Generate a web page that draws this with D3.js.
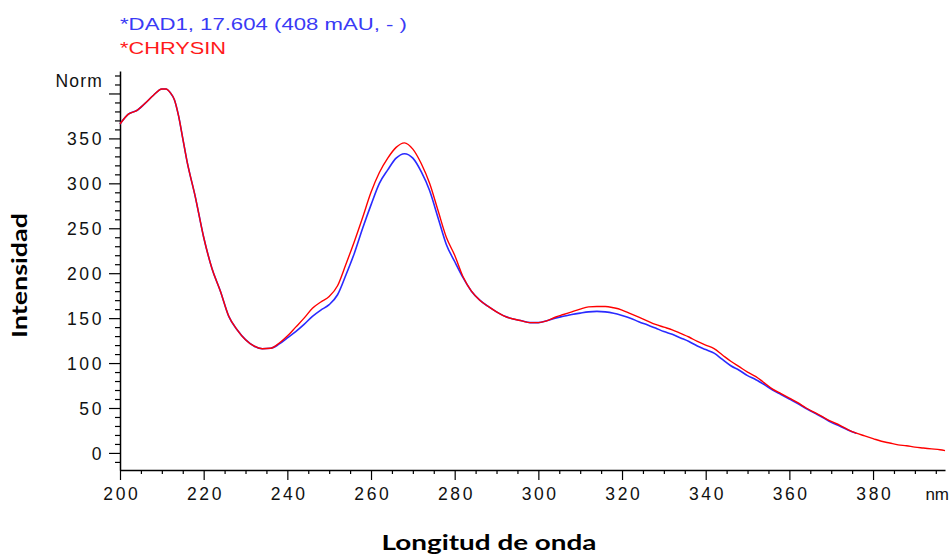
<!DOCTYPE html>
<html>
<head>
<meta charset="utf-8">
<script src="https://cdn.jsdelivr.net/npm/d3@7"></script>
<style>
  html, body { margin: 0; padding: 0; background: #fff; }
  svg { display: block; }
  .tick text { font-family: "Liberation Sans", Arial, sans-serif; font-size: 17.5px; fill: #111; letter-spacing: 2.6px; }
  .domain { stroke: #000; stroke-width: 1.5; }
  .tick line { stroke: #000; stroke-width: 1.2; }
</style>
</head>
<body>
<svg id="chart" width="950" height="554"></svg>
<script>
// ---- data ----
const wavelengthsRed = [200,202,204,206,208,210,211,212,213,214,215,216,218,220,222,224,226,228,230,232,234,236,238,240,242,244,246,248,250,252,254,256,258,260,262,264,266,268,270,272,274,276,278,280,282,284,286,288,290,292,294,296,298,300,302,304,306,308,310,312,314,316,318,320,322,324,326,328,330,332,334,336,338,340,342,344,346,348,350,352,354,356,358,360,362,364,366,368,370,372,374,376,378,380,382,384,386,388,390,392,394,396,397.2];
const chrysinValues = [366,377,381,389,398,405,405,401,393,375,350,325,285,240,205,180,152,137,126,119,116,116.5,122,130,140,150,161,168,174,186,210,235,262,290,312,328,340,345,338,322,300,270,240,220,196,180,170,163,157,152,149,147,145,145,147,151,154,157,160,162.5,163,163,161.5,159,155,151,147,143,140,137,133,129,124,120,116,109,102,96,90,85,78,71,66,61,56,50,45,40,35,31,26,22,19,16,13,11,9,8,6.5,5.5,4.5,3.5,2.5];

const wavelengthsBlue = [200,202,204,206,208,210,211,212,213,214,215,216,218,220,222,224,226,228,230,232,234,236,238,240,242,244,246,248,250,252,254,256,258,260,262,264,266,268,270,272,274,276,278,280,282,284,286,288,290,292,294,296,298,300,302,304,306,308,310,312,314,316,318,320,322,324,326,328,330,332,334,336,338,340,342,344,346,348,350,352,354,356,358,360,362,364,366,368,370,372,374,376];
const dadValues = [366,377,381,389,398,405,405,401,393,375,350,325,285,240,205,180,152,137,126,119,116,116.5,121,128,135,143,152,159,165,176,198,222,250,276,300,315,328,333,328,313,292,262,232,213,195,180,170,163,157,152,149,147,145,145,147,150,152,154,155.6,157,157.5,157,155.5,153,150,146,142.5,139,135,132,128,124,119,115,111,104,97,92,86,81.5,76,70,65,60,55,49.5,44.5,39.5,34,30,25.5,22];

const xMajorTicks = [200,220,240,260,280,300,320,340,360,380];
const xMinorTicks = d3.range(205, 397, 5).filter(v => v % 20 !== 0);
const yMajorTicks = [0,50,100,150,200,250,300,350,400];
const yTickLabels = ["0","50","100","150","200","250","300","350",""];
const yMinorTicks = d3.range(-10, 425, 10).filter(v => v % 50 !== 0);

const legendLines = ["*DAD1, 17.604 (408 mAU, - )", "*CHRYSIN"];
const legendColors = ["#3a3af5", "#ff1a1a"];
const yAxisTitle = "Intensidad";
const xAxisTitle = "Longitud de onda";
const xUnit = "nm";
const yUnit = "Norm";

// ---- chart ----
const svg = d3.select("#chart");
const x = d3.scaleLinear().domain([200, 397.2]).range([120, 945]);
const y = d3.scaleLinear().domain([-19, 425]).range([470, 71]);

// minor ticks
svg.append("g").attr("transform", "translate(0,470)")
  .call(d3.axisBottom(x).tickValues(xMinorTicks).tickSize(4).tickFormat(""))
  .call(g => g.select(".domain").remove());
svg.append("g").attr("transform", "translate(120,0)")
  .call(d3.axisLeft(y).tickValues(yMinorTicks).tickSize(5).tickFormat(""))
  .call(g => g.select(".domain").remove());

// major x axis
const gx = svg.append("g").attr("transform", "translate(0,470)")
  .call(d3.axisBottom(x).tickValues(xMajorTicks).tickSize(10).tickSizeOuter(0).tickFormat(d3.format("d")));
gx.selectAll(".tick text").attr("y", 30).attr("dy", 0).attr("dx", 1.3);

// major y axis
const gy = svg.append("g").attr("transform", "translate(120,0)")
  .call(d3.axisLeft(y).tickValues(yMajorTicks).tickSize(11).tickSizeOuter(0)
    .tickFormat((d, i) => yTickLabels[i]));
gy.selectAll(".tick text").attr("x", -16).attr("dy", "0.36em");

// unit labels
svg.append("text").attr("x", 103).attr("y", 87).attr("text-anchor", "end")
  .style("font-family", "Liberation Sans, Arial, sans-serif").style("font-size", "17.5px")
  .style("letter-spacing", "1.2px").attr("fill", "#111").text(yUnit);
svg.append("text").attr("x", 949).attr("y", 500).attr("text-anchor", "end")
  .style("font-family", "Liberation Sans, Arial, sans-serif").style("font-size", "17px")
  .attr("fill", "#111").text(xUnit);

// lines
const line = d3.line().x(d => x(d[0])).y(d => y(d[1])).curve(d3.curveMonotoneX);
const blueData = wavelengthsBlue.map((w, i) => [w, dadValues[i]]);
const redData = wavelengthsRed.map((w, i) => [w, chrysinValues[i]]);
svg.append("path").datum(blueData).attr("d", line)
  .attr("fill", "none").attr("stroke", "#2a2aff").attr("stroke-width", 1.6);
svg.append("path").datum(redData).attr("d", line)
  .attr("fill", "none").attr("stroke", "#ff0000").attr("stroke-width", 1.4);

// legend
const legendWidths = [287, 106];
legendLines.forEach((t, i) => {
  svg.append("text").attr("x", 120).attr("y", 30 + i * 24)
    .attr("textLength", legendWidths[i]).attr("lengthAdjust", "spacingAndGlyphs")
    .style("font-family", "Liberation Sans, Arial, sans-serif").style("font-size", "16.5px")
    .attr("fill", legendColors[i]).text(t);
});

// axis titles
svg.append("text")
  .attr("transform", "translate(27,275.5) rotate(-90)")
  .attr("text-anchor", "middle")
  .attr("textLength", 125).attr("lengthAdjust", "spacingAndGlyphs")
  .style("font-family", "Lato, 'Open Sans', sans-serif").style("font-weight", "bold").style("font-size", "21px")
  .attr("fill", "#000").text(yAxisTitle);
svg.append("text")
  .attr("x", 489).attr("y", 549.5)
  .attr("text-anchor", "middle")
  .attr("textLength", 215).attr("lengthAdjust", "spacingAndGlyphs")
  .style("font-family", "Lato, 'Open Sans', sans-serif").style("font-weight", "bold").style("font-size", "21px")
  .attr("fill", "#000").text(xAxisTitle);
</script>
</body>
</html>
